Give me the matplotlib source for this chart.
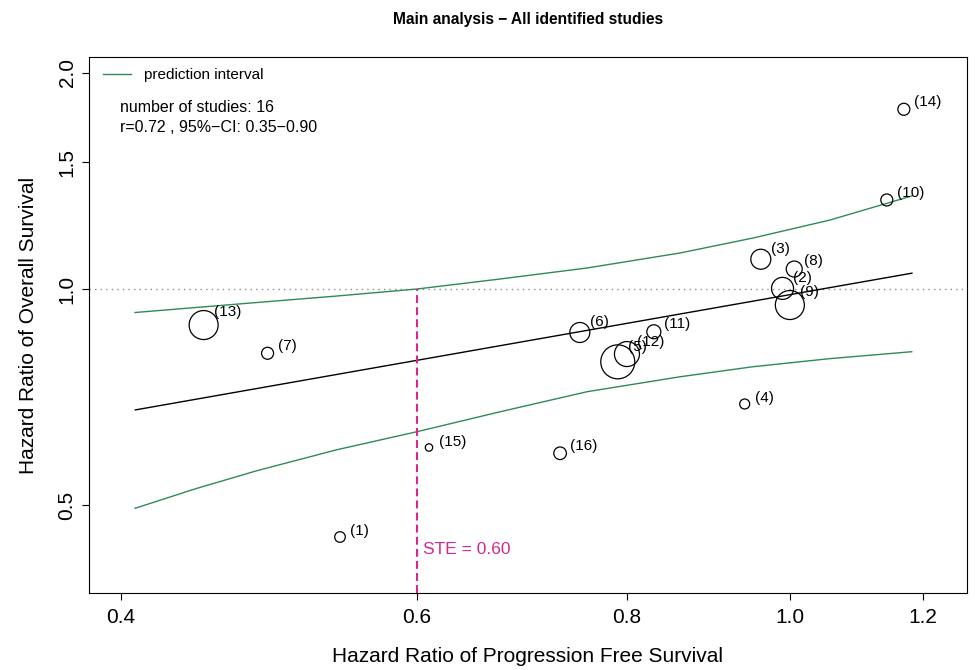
import numpy as np
import matplotlib
matplotlib.use('Agg')
import matplotlib.pyplot as plt
from matplotlib.ticker import FixedLocator, NullLocator, FixedFormatter

plt.rcParams['font.family'] = ['Liberation Sans', 'DejaVu Sans']

# Studies
study = np.arange(1, 17)
hr_pfs = np.array([0.540, 0.990, 0.961, 0.940, 0.790, 0.750, 0.489, 1.006,
                   1.000, 1.142, 0.830, 0.800, 0.448, 1.169, 0.610, 0.730])
hr_os = np.array([0.452, 1.002, 1.100, 0.692, 0.792, 0.870, 0.814, 1.066,
                  0.950, 1.330, 0.872, 0.812, 0.891, 1.778, 0.602, 0.591])
# relative study weight (circle radius)
weight = np.array([5.3, 11, 10, 5, 17, 10, 6, 8, 14.5, 6, 7, 12.5, 14.5, 6, 3.7, 6.3])

# Regression line (end points) and prediction interval
fit_x = [0.408, 1.182]
fit_y = [0.679, 1.052]
pi_x = [0.4078, 0.4433, 0.4819, 0.5377, 0.600, 0.6723, 0.7574, 0.8603,
        0.9508, 1.0565, 1.1817]
pi_upper = [0.9275, 0.9425, 0.9577, 0.9778, 1.000, 1.0325, 1.0696, 1.1222,
            1.1774, 1.2472, 1.3469]
pi_lower = [0.4955, 0.5277, 0.5589, 0.5977, 0.6332, 0.6749, 0.7197, 0.7550,
            0.7797, 0.8002, 0.8181]

ste = 0.60
n_studies = 16
r_txt = 'r=0.72 , 95%\u2212CI: 0.35\u22120.90'

xticks = [0.4, 0.6, 0.8, 1.0, 1.2]
yticks = [0.5, 1.0, 1.5, 2.0]

fig = plt.figure(figsize=(9.75, 6.7), dpi=100)
ax = fig.add_axes([89/975, 77/670, 878/975, 536/670])
ax.set_xscale('log')
ax.set_yscale('log')
ax.set_xlim(0.3829, 1.2746)
ax.set_ylim(0.3778, 2.102)

ax.axhline(1.0, color='#8c8c8c', lw=1, linestyle=(0, (1, 3)))

ax.plot(pi_x, pi_upper, color='#2E8B57', lw=1)
ax.plot(pi_x, pi_lower, color='#2E8B57', lw=1)
ax.plot(fit_x, fit_y, color='black', lw=1)

ax.plot([ste, ste], [0.3778, 1.0], color='#D4288F', lw=1.5, dashes=(3.8, 2.0))
ax.annotate('STE = %.2f' % ste, (ste, 0.4336), xytext=(4.3, 0),
            textcoords='offset points', color='#D4288F', fontsize=12.5,
            va='center', ha='left')

ax.scatter(hr_pfs, hr_os, s=(1.44 * weight) ** 2, facecolors='none',
           edgecolors='black', linewidths=0.9, zorder=3)
for i in range(len(study)):
    dy = 0.72 * (0.75 * weight[i] + 2.5)
    ax.annotate('(%d)' % study[i], (hr_pfs[i], hr_os[i]), xytext=(7.2, dy),
                textcoords='offset points', ha='left', va='center', fontsize=11)

# legend and stats
ax.plot([], [], color='#2E8B57', lw=1, label='prediction interval')
ax.legend(loc='center left', bbox_to_anchor=(14/878, 518/536), frameon=False,
          fontsize=11, borderpad=0, borderaxespad=0, handlelength=1.8,
          handletextpad=0.9)
ax.text(31/878, 485/536, 'number of studies: %d' % n_studies, transform=ax.transAxes,
        fontsize=11.5, va='center', ha='left')
ax.text(31/878, 465/536, r_txt, transform=ax.transAxes,
        fontsize=11.5, va='center', ha='left')

ax.xaxis.set_major_locator(FixedLocator(xticks))
ax.xaxis.set_minor_locator(NullLocator())
ax.xaxis.set_major_formatter(FixedFormatter(['%.1f' % v for v in xticks]))
ax.yaxis.set_major_locator(FixedLocator(yticks))
ax.yaxis.set_minor_locator(NullLocator())
ax.yaxis.set_major_formatter(FixedFormatter(['%.1f' % v for v in yticks]))
ax.tick_params(length=5, width=0.8, labelsize=15, pad=6)
ax.tick_params(axis='y', pad=4)
for lbl in ax.get_yticklabels():
    lbl.set_rotation(90)
    lbl.set_va('center')

ax.set_xlabel('Hazard Ratio of Progression Free Survival', fontsize=15, labelpad=14)
ax.set_ylabel('Hazard Ratio of Overall Survival', fontsize=15, labelpad=14)
ax.set_title('Main analysis \u2212 All identified studies', fontsize=11.2,
             fontweight='bold', pad=24)

fig.savefig('out.png', dpi=100)
